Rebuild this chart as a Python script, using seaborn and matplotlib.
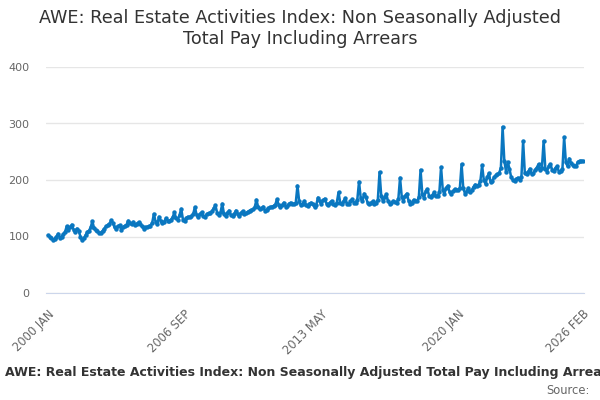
import seaborn as sns
import matplotlib.pyplot as plt
import pandas as pd

# monthly index values, 2000 JAN .. 2026 FEB
y2000 = [102, 100, 98, 94, 96, 100, 105, 98, 100, 104, 108, 118]
y2001 = [112, 116, 121, 112, 108, 114, 110, 100, 93, 97, 102, 108]
y2002 = [110, 116, 127, 115, 111, 110, 106, 107, 110, 114, 118, 120]
y2003 = [122, 129, 124, 116, 114, 118, 120, 112, 116, 119, 121, 128]
y2004 = [124, 122, 126, 121, 123, 125, 122, 118, 114, 116, 117, 118]
y2005 = [119, 124, 140, 126, 122, 135, 128, 124, 126, 132, 128, 127]
y2006 = [130, 134, 143, 132, 130, 138, 149, 130, 128, 133, 135, 134]
y2007 = [136, 140, 152, 138, 134, 140, 143, 136, 135, 140, 141, 142]
y2008 = [145, 150, 155, 142, 138, 143, 158, 140, 136, 142, 146, 138]
y2009 = [137, 140, 146, 140, 137, 142, 145, 140, 141, 144, 146, 147]
y2010 = [148, 152, 165, 152, 148, 150, 153, 146, 147, 150, 152, 153]
y2011 = [154, 156, 166, 156, 152, 155, 160, 153, 154, 158, 160, 157]
y2012 = [158, 160, 190, 162, 155, 158, 163, 156, 154, 158, 160, 157]
y2013 = [152, 156, 169, 162, 157, 164, 167, 158, 156, 160, 163, 158]
y2014 = [156, 160, 178, 160, 157, 163, 168, 158, 157, 162, 166, 160]
y2015 = [160, 165, 197, 168, 162, 176, 170, 160, 157, 160, 162, 158]
y2016 = [160, 165, 214, 172, 163, 170, 175, 162, 158, 160, 163, 161]
y2017 = [160, 166, 204, 170, 163, 172, 176, 163, 158, 160, 165, 162]
y2018 = [162, 170, 218, 176, 168, 180, 184, 172, 170, 174, 178, 172]
y2019 = [172, 178, 223, 182, 176, 186, 190, 178, 176, 180, 184, 182]
y2020 = [183, 186, 228, 185, 176, 180, 186, 178, 182, 188, 192, 190]
y2021 = [192, 198, 226, 200, 193, 205, 212, 196, 198, 205, 208, 210]
y2022 = [212, 222, 294, 234, 215, 232, 220, 205, 200, 198, 202, 204]
y2023 = [200, 205, 269, 212, 210, 215, 220, 210, 212, 218, 222, 228]
y2024 = [218, 222, 269, 220, 215, 225, 228, 218, 216, 222, 224, 214]
y2025 = [216, 220, 276, 232, 224, 238, 230, 226, 224, 225, 232, 234]
y2026 = [233, 234]

values = (y2000 + y2001 + y2002 + y2003 + y2004 + y2005 + y2006 + y2007
          + y2008 + y2009 + y2010 + y2011 + y2012 + y2013 + y2014 + y2015
          + y2016 + y2017 + y2018 + y2019 + y2020 + y2021 + y2022 + y2023
          + y2024 + y2025 + y2026)

labelled = ['2000 JAN', '2006 SEP', '2013 MAY', '2020 JAN', '2026 FEB']

df = pd.DataFrame({'month': range(len(values)), 'value': values})

sns.set_style('white')
plt.rcParams['font.family'] = ['DejaVu Sans']

fig = plt.figure(figsize=(6, 4), dpi=100)
ax = fig.add_axes([0.077, 0.2675, 0.896, 0.565])

sns.lineplot(data=df, x='month', y='value', ax=ax, color='#0a77c0',
             linewidth=1.8, marker='o', markersize=3.2, markeredgewidth=0)

ax.set_ylim(0, 400)
ax.set_yticks([0, 100, 200, 300, 400])
ax.set_xlim(-1, len(values) - 1 + 0.5)
ax.yaxis.grid(True, color='#e6e6e6', linewidth=1)
ax.set_axisbelow(True)

ticks = list(range(0, len(values), 20)) + [len(values) - 1]
ax.set_xticks(ticks)
names = []
j = 0
for t in ticks:
    if t % 80 == 0 or t == len(values) - 1:
        names.append(labelled[j])
        j += 1
    else:
        names.append('')
ax.set_xticklabels(names, rotation=45, ha='right', rotation_mode='anchor')

for s in ['top', 'right', 'left']:
    ax.spines[s].set_visible(False)
ax.spines['bottom'].set_color('#ccd6eb')
ax.tick_params(axis='x', colors='#ccd6eb', length=7, width=1,
               labelcolor='#666666', labelsize=8.3)
ax.tick_params(axis='y', length=0, labelcolor='#666666', labelsize=8, pad=12)
ax.set_xlabel('')
ax.set_ylabel('')

fig.text(0.5, 0.978, 'AWE: Real Estate Activities Index: Non Seasonally Adjusted\n'
         'Total Pay Including Arrears', ha='center', va='top',
         fontsize=12.7, color='#333333', linespacing=1.2)

fig.text(0.008, 0.068, 'AWE: Real Estate Activities Index: Non Seasonally Adjusted '
         'Total Pay Including Arrears', ha='left', va='center',
         fontsize=9, fontweight='bold', color='#333333')
fig.text(0.982, 0.025, 'Source:', ha='right', va='center',
         fontsize=8.3, color='#666666')

fig.savefig('out.png', dpi=100)
